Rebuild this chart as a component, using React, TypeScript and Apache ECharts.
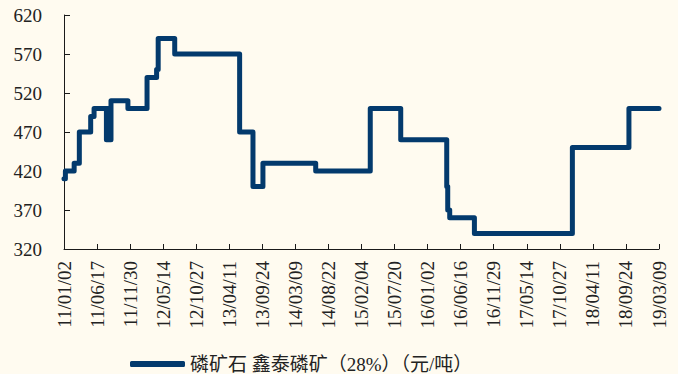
import React, { useEffect, useRef } from "react";
import * as echarts from "echarts";

// Dates at which the price changed (value holds until next date)
const changeDates = [
  "2011-01-02", "2011-01-09", "2011-02-22", "2011-03-20", "2011-05-16", "2011-06-02",
  "2011-08-03", "2011-08-08", "2011-08-12", "2011-08-26", "2011-11-19", "2012-02-23",
  "2012-04-11", "2012-04-19", "2012-07-11", "2013-06-02", "2013-08-08", "2013-09-27",
  "2014-06-19", "2015-03-20", "2015-08-20", "2016-04-07", "2016-04-12", "2016-04-22",
  "2016-08-24", "2017-12-29", "2018-10-09", "2019-03-09",
];
const prices = [
  410, 420, 430, 470, 490, 500,
  460, 500, 460, 510, 500, 540,
  550, 590, 570, 470, 400, 430,
  420, 500, 460, 400, 370, 360,
  340, 450, 500, 500,
];
const yTicks = [320, 370, 420, 470, 520, 570, 620];
const startDate = "2011-01-02";
const endDate = "2019-03-09";
const tickStepDays = 166;
const seriesName = "磷矿石 鑫泰磷矿（28%）（元/吨）";

const DAY = 86400000;
const parse = (s: string) => {
  const [y, m, d] = s.split("-").map(Number);
  return Date.UTC(y, m - 1, d);
};
const BASE = parse(startDate);
const toDay = (s: string) => Math.round((parse(s) - BASE) / DAY);
const fmt = (v: number) => {
  const dt = new Date(BASE + Math.round(v) * DAY);
  const p = (n: number) => String(n).padStart(2, "0");
  return `${p(dt.getUTCFullYear() % 100)}/${p(dt.getUTCMonth() + 1)}/${p(dt.getUTCDate())}`;
};

export default function App() {
  const ref = useRef<HTMLDivElement>(null);
  useEffect(() => {
    if (!ref.current) return;
    const chart = echarts.init(ref.current, null, { renderer: "svg" });
    const data = changeDates.map((d, i) => [toDay(d), prices[i]]);
    const axisColor = "#1a1a1a";
    const labelFont = "Liberation Serif, DejaVu Serif, serif";
    chart.setOption({
      animation: false,
      backgroundColor: "#FFFBF0",
      grid: {
        left: 64,
        right: 19,
        top: 15,
        bottom: 125,
        containLabel: false,
        outerBoundsMode: "none",
      },
      legend: {
        left: 130,
        top: 354,
        padding: 0,
        icon: "roundRect",
        itemWidth: 55,
        itemHeight: 6,
        itemGap: 10,
        textStyle: {
          fontFamily: "Liberation Serif, Noto Sans CJK SC, serif",
          fontSize: 19,
          color: "#222",
          lineHeight: 20,
        },
        data: [seriesName],
      },
      xAxis: {
        type: "value",
        min: 0,
        max: toDay(endDate),
        interval: tickStepDays,
        axisLine: { show: true, lineStyle: { color: axisColor, width: 1 } },
        axisTick: { show: true, inside: true, length: 5, lineStyle: { color: axisColor } },
        splitLine: { show: false },
        axisLabel: {
          rotate: 90,
          margin: 12,
          formatter: (v: number) => fmt(v),
          fontFamily: labelFont,
          fontSize: 19,
          color: "#222",
          showMinLabel: true,
          showMaxLabel: true,
        },
      },
      yAxis: {
        type: "value",
        min: 320,
        max: 620,
        axisLine: { show: true, lineStyle: { color: axisColor, width: 1 } },
        axisTick: {
          show: true,
          inside: true,
          length: 6,
          lineStyle: { color: axisColor },
          customValues: yTicks,
        },
        splitLine: { show: false },
        axisLabel: {
          margin: 22,
          fontFamily: labelFont,
          fontSize: 19,
          color: "#222",
          customValues: yTicks,
        },
      },
      series: [
        {
          name: seriesName,
          type: "line",
          step: "end",
          data,
          showSymbol: false,
          symbol: "none",
          color: "#033A6D",
          lineStyle: { color: "#033A6D", width: 5, join: "round", cap: "round" },
        },
      ],
    });
    return () => chart.dispose();
  }, []);
  return (
    <div
      ref={ref}
      style={{ position: "fixed", left: 0, top: 0, width: 678, height: 374 }}
    />
  );
}
